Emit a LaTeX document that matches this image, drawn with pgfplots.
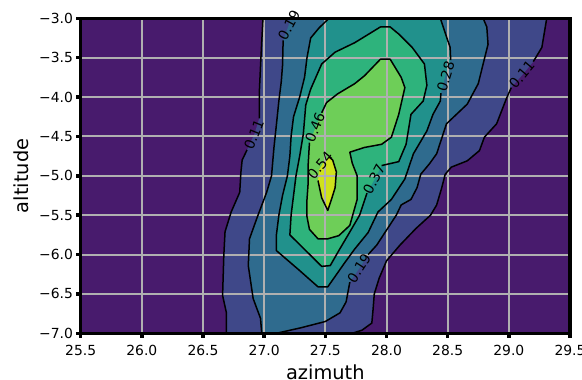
\documentclass[border=0pt]{standalone}
\usepackage{fontspec}
\setmainfont{DejaVu Sans}
\usepackage{pgfplots}
\pgfplotsset{compat=1.18}
\definecolor{c0}{HTML}{481B6D}
\definecolor{c1}{HTML}{3F4889}
\definecolor{c2}{HTML}{2F6B8E}
\definecolor{c3}{HTML}{21918C}
\definecolor{c4}{HTML}{2EB37C}
\definecolor{c5}{HTML}{6ECE58}
\definecolor{c6}{HTML}{CFE11C}
\definecolor{gridc}{HTML}{B0B0B0}
\newcommand{\tickfont}{\fontsize{13.9}{16}\selectfont}
\newcommand{\labfont}{\fontsize{19.4}{22}\selectfont}
\tikzset{clab/.style={font=\tickfont, inner sep=0pt, black}}
\pgfplotsset{cline/.style={black, line width=1.5pt, line join=round},
  gline/.style={gridc, line width=2pt}}
\begin{document}
\begin{tikzpicture}
\useasboundingbox (0,0) rectangle (582pt,380pt);
\begin{axis}[
  at={(80.7pt,46.7pt)}, anchor=south west,
  scale only axis, width=489.3pt, height=315pt,
  xmin=25.5, xmax=29.5, ymin=-7, ymax=-3,
  axis on top, clip=false,
  xtick={25.5,26,26.5,27,27.5,28,28.5,29,29.5},
  xticklabels={25.5,26.0,26.5,27.0,27.5,28.0,28.5,29.0,29.5},
  ytick={-7,-6.5,-6,-5.5,-5,-4.5,-4,-3.5,-3},
  yticklabels={−7.0,−6.5,−6.0,−5.5,−5.0,−4.5,−4.0,−3.5,−3.0},
  tick align=outside, tick pos=left,
  major tick length=4.5pt,
  every tick/.style={black, line width=3.5pt},
  axis line style={black, line width=3.5pt},
  ticklabel style={font=\tickfont},
  yticklabel style={anchor=east, inner sep=0pt, xshift=-3pt},
  xticklabel style={anchor=north, inner sep=0pt, yshift=-7pt},
  xlabel={azimuth}, ylabel={altitude},
  every axis x label/.style={at={(axis description cs:0.5,-0.146)}, anchor=base, font=\labfont},
  every axis y label/.style={at={(axis description cs:-0.1071,0.5)}, rotate=90, anchor=base, font=\labfont},
]
% filled bands
\addplot[fill=c0, draw=none] coordinates {(25.5,-7) (29.5,-7) (29.5,-3) (25.5,-3)} -- cycle;
\addplot[fill=c1, draw=none] coordinates {
 (26.99,-3.0) (26.98,-3.30) (26.97,-3.61) (26.96,-3.95) (26.96,-4.27) (26.92,-4.47) (26.86,-4.67) (26.82,-4.80) (26.81,-4.95) (26.80,-5.21) (26.73,-5.46) (26.68,-5.71) (26.67,-6.01) (26.66,-6.52) (26.69,-6.73) (26.69,-7.0)
 (27.72,-7.0) (27.80,-6.96) (27.88,-6.87) (27.89,-6.70) (27.90,-6.50) (27.94,-6.30) (28.00,-6.08) (28.11,-5.88) (28.24,-5.67) (28.36,-5.50) (28.41,-5.37) (28.45,-5.16) (28.48,-4.98) (28.53,-4.89) (28.66,-4.81) (28.76,-4.68) (28.80,-4.51) (28.90,-4.34) (28.98,-4.02) (29.02,-3.88) (29.11,-3.72) (29.20,-3.55) (29.27,-3.37) (29.31,-3.0)} -- cycle;
\addplot[fill=c2, draw=none] coordinates {
 (27.21,-3.0) (27.20,-3.09) (27.155,-3.28) (27.15,-3.60) (27.14,-3.80) (27.12,-4.05) (27.10,-4.35) (27.08,-4.64) (27.06,-5.0) (27.02,-5.21) (26.94,-5.54) (26.88,-5.80) (26.87,-6.14) (26.91,-6.56) (26.97,-6.81) (26.98,-7.0)
 (27.10,-7.0) (27.30,-6.93) (27.50,-6.85) (27.62,-6.74) (27.67,-6.60) (27.70,-6.35) (27.78,-6.17) (27.85,-6.00) (27.92,-5.88) (28.00,-5.69) (28.08,-5.50) (28.12,-5.37) (28.20,-5.30) (28.25,-5.15) (28.28,-4.98) (28.35,-4.85) (28.41,-4.72) (28.49,-4.34) (28.66,-4.09) (28.75,-3.83) (28.79,-3.58) (28.83,-3.33) (28.82,-3.11) (28.79,-3.0)} -- cycle;
\addplot[fill=c3, draw=none] coordinates {
 (27.53,-3.0) (27.45,-3.12) (27.38,-3.25) (27.35,-3.5) (27.33,-3.75) (27.29,-4.0) (27.24,-4.25) (27.22,-4.5) (27.21,-4.75) (27.19,-5.0) (27.15,-5.25) (27.12,-5.5) (27.10,-5.75) (27.10,-5.95) (27.28,-6.19) (27.44,-6.41) (27.52,-6.41) (27.66,-6.10) (27.74,-5.93) (27.85,-5.72) (27.93,-5.46) (28.04,-5.30) (28.15,-5.04) (28.22,-4.72) (28.33,-4.43) (28.38,-4.22) (28.44,-4.05) (28.445,-3.95) (28.48,-3.74) (28.525,-3.53) (28.52,-3.37) (28.44,-3.0)} -- cycle;
\addplot[fill=c4, draw=none] coordinates {
 (27.21,-5.75) (27.22,-5.5) (27.24,-5.25) (27.26,-5.0) (27.29,-4.75) (27.32,-4.47) (27.34,-4.10) (27.38,-3.90) (27.47,-3.58) (27.58,-3.43) (27.74,-3.31) (27.95,-3.11) (28.03,-3.11) (28.10,-3.20) (28.21,-3.37) (28.31,-3.58) (28.33,-3.85) (28.30,-4.05) (28.20,-4.22) (28.16,-4.60) (28.10,-4.82) (27.96,-4.87) (27.90,-5.05) (27.84,-5.22) (27.78,-5.50) (27.69,-5.74) (27.61,-5.95) (27.54,-6.14) (27.47,-6.15)} -- cycle;
\addplot[fill=c5, draw=none] coordinates {
 (27.52,-5.80) (27.61,-5.76) (27.70,-5.63) (27.76,-5.30) (27.76,-5.0) (27.72,-4.84) (27.70,-4.70) (27.82,-4.64) (27.96,-4.60) (28.04,-4.51) (28.10,-4.22) (28.15,-3.88) (28.12,-3.75) (28.03,-3.52) (27.95,-3.52) (27.82,-3.73) (27.74,-3.83) (27.60,-3.96) (27.51,-4.07) (27.47,-4.20) (27.42,-4.39) (27.37,-4.58) (27.36,-4.85) (27.36,-5.08) (27.35,-5.30) (27.35,-5.52) (27.37,-5.68) (27.44,-5.80)} -- cycle;
\addplot[fill=c6, draw=none] coordinates {
 (27.53,-4.76) (27.56,-4.80) (27.59,-4.95) (27.58,-5.15) (27.55,-5.30) (27.52,-5.44) (27.47,-5.28) (27.44,-5.06) (27.45,-4.92) (27.49,-4.82)} -- cycle;
% grid lines
\addplot[gline] coordinates {(26,-7) (26,-3)};
\addplot[gline] coordinates {(26.5,-7) (26.5,-3)};
\addplot[gline] coordinates {(27,-7) (27,-3)};
\addplot[gline] coordinates {(27.5,-7) (27.5,-3)};
\addplot[gline] coordinates {(28,-7) (28,-3)};
\addplot[gline] coordinates {(28.5,-7) (28.5,-3)};
\addplot[gline] coordinates {(29,-7) (29,-3)};
\addplot[gline] coordinates {(25.5,-6.5) (29.5,-6.5)};
\addplot[gline] coordinates {(25.5,-6) (29.5,-6)};
\addplot[gline] coordinates {(25.5,-5.5) (29.5,-5.5)};
\addplot[gline] coordinates {(25.5,-5) (29.5,-5)};
\addplot[gline] coordinates {(25.5,-4.5) (29.5,-4.5)};
\addplot[gline] coordinates {(25.5,-4) (29.5,-4)};
\addplot[gline] coordinates {(25.5,-3.5) (29.5,-3.5)};
% contour lines
\addplot[cline] coordinates {(26.99,-3.0) (26.98,-3.30) (26.97,-3.61) (26.96,-3.95) (26.96,-4.27)};
\addplot[cline] coordinates {(26.86,-4.67) (26.82,-4.80) (26.81,-4.95) (26.80,-5.21) (26.73,-5.46) (26.68,-5.71) (26.67,-6.01) (26.66,-6.52) (26.69,-6.73) (26.69,-7.0)};
\addplot[cline] coordinates {(27.72,-7.0) (27.80,-6.96) (27.88,-6.87) (27.89,-6.70) (27.90,-6.50) (27.94,-6.30) (28.00,-6.08) (28.11,-5.88) (28.24,-5.67) (28.36,-5.50) (28.41,-5.37) (28.45,-5.16) (28.48,-4.98) (28.53,-4.89) (28.66,-4.81) (28.76,-4.68) (28.80,-4.51) (28.90,-4.34) (28.98,-4.02) (29.02,-3.88)};
\addplot[cline] coordinates {(29.20,-3.55) (29.27,-3.37) (29.31,-3.0)};
\addplot[cline] coordinates {(27.155,-3.28) (27.15,-3.60) (27.14,-3.80) (27.12,-4.05) (27.10,-4.35) (27.08,-4.64) (27.06,-5.0) (27.02,-5.21) (26.94,-5.54) (26.88,-5.80) (26.87,-6.14) (26.91,-6.56) (26.97,-6.81) (26.98,-7.0)};
\addplot[cline] coordinates {(27.10,-7.0) (27.30,-6.93) (27.50,-6.85) (27.62,-6.74) (27.67,-6.60) (27.70,-6.35)};
\addplot[cline] coordinates {(27.85,-6.00) (27.92,-5.88) (28.00,-5.69) (28.08,-5.50) (28.12,-5.37) (28.20,-5.30) (28.25,-5.15) (28.28,-4.98) (28.35,-4.85) (28.41,-4.72) (28.49,-4.34) (28.66,-4.09) (28.75,-3.83) (28.79,-3.58) (28.83,-3.33) (28.82,-3.11) (28.79,-3.0)};
\addplot[cline] coordinates {(27.53,-3.0) (27.45,-3.12) (27.38,-3.25) (27.35,-3.5) (27.33,-3.75) (27.29,-4.0) (27.24,-4.25) (27.22,-4.5) (27.21,-4.75) (27.19,-5.0) (27.15,-5.25) (27.12,-5.5) (27.10,-5.75) (27.10,-5.95) (27.28,-6.19) (27.44,-6.41) (27.52,-6.41) (27.66,-6.10) (27.74,-5.93) (27.85,-5.72) (27.93,-5.46) (28.04,-5.30) (28.15,-5.04) (28.22,-4.72) (28.33,-4.43) (28.38,-4.22) (28.44,-4.05) (28.445,-3.95)};
\addplot[cline] coordinates {(28.525,-3.53) (28.52,-3.37) (28.44,-3.0)};
\addplot[cline] coordinates {(27.84,-5.22) (27.78,-5.50) (27.69,-5.74) (27.61,-5.95) (27.54,-6.14) (27.47,-6.15) (27.21,-5.75) (27.22,-5.5) (27.24,-5.25) (27.26,-5.0) (27.29,-4.75) (27.32,-4.47) (27.34,-4.10) (27.38,-3.90) (27.47,-3.58) (27.58,-3.43) (27.74,-3.31) (27.95,-3.11) (28.03,-3.11) (28.10,-3.20) (28.21,-3.37) (28.31,-3.58) (28.33,-3.85) (28.30,-4.05) (28.20,-4.22) (28.16,-4.60) (28.10,-4.82) (27.96,-4.87)};
\addplot[cline] coordinates {(27.37,-4.58) (27.36,-4.85) (27.36,-5.08) (27.35,-5.30) (27.35,-5.52) (27.37,-5.68) (27.44,-5.80) (27.52,-5.80) (27.61,-5.76) (27.70,-5.63) (27.76,-5.30) (27.76,-5.0) (27.72,-4.84) (27.70,-4.70) (27.82,-4.64) (27.96,-4.60) (28.04,-4.51) (28.10,-4.22) (28.15,-3.88) (28.12,-3.75) (28.03,-3.52) (27.95,-3.52) (27.82,-3.73) (27.74,-3.83) (27.60,-3.96) (27.51,-4.07) (27.47,-4.20)};
\addplot[cline] coordinates {(27.44,-5.06) (27.47,-5.28) (27.52,-5.44) (27.55,-5.30) (27.58,-5.15) (27.59,-4.95) (27.56,-4.80) (27.53,-4.76)};
% contour labels
\node[clab, rotate=68] at (axis cs:26.917,-4.473) {0.11};
\node[clab, rotate=50] at (axis cs:29.106,-3.716) {0.11};
\node[clab, rotate=62] at (axis cs:27.203,-3.085) {0.19};
\node[clab, rotate=57] at (axis cs:27.776,-6.175) {0.19};
\node[clab, rotate=73] at (axis cs:28.484,-3.741) {0.28};
\node[clab, rotate=62] at (axis cs:27.898,-5.045) {0.37};
\node[clab, rotate=68] at (axis cs:27.416,-4.389) {0.46};
\node[clab, rotate=50] at (axis cs:27.457,-4.867) {0.54};
\end{axis}
\end{tikzpicture}
\end{document}
